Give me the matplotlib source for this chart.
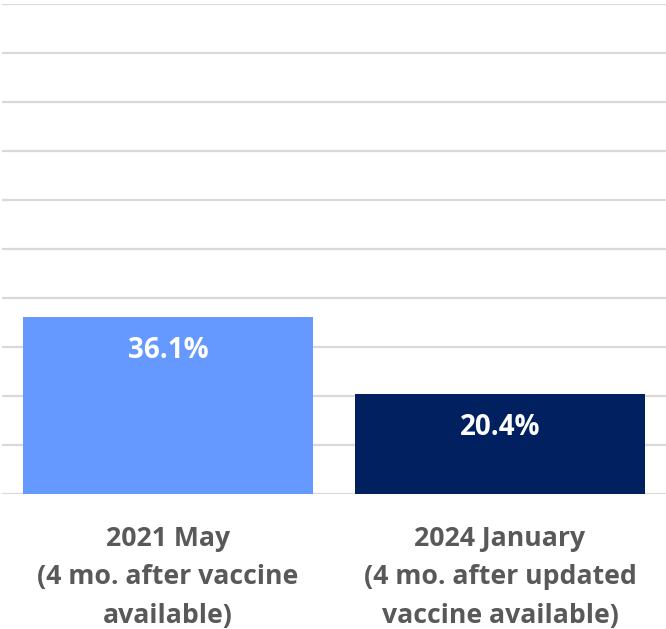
import matplotlib.pyplot as plt
import numpy as np

categories = ["2021 May\n(4 mo. after vaccine\navailable)",
              "2024 January\n(4 mo. after updated\nvaccine available)"]
values = [36.1, 20.4]
colors = ["#6699FF", "#002060"]

plt.rcParams["font.family"] = ["Open Sans", "DejaVu Sans"]

fig = plt.figure(figsize=(6.66, 6.29), dpi=100)
ax = fig.add_axes([2 / 666, 1 - 494 / 629, 664 / 666, 490 / 629])

x = np.arange(len(values))
bars = ax.bar(x, values, width=0.872, color=colors, zorder=3)

ax.set_xlim(-0.5, len(values) - 0.5)
ax.set_ylim(0, 100)
ax.set_yticks(np.arange(0, 101, 10))
ax.yaxis.grid(True, color="#d9d9d9", linewidth=1.6, zorder=0)
ax.tick_params(axis="y", left=False, labelleft=False)
ax.tick_params(axis="x", bottom=False, pad=19.5)
for s in ax.spines.values():
    s.set_visible(False)

ax.set_xticks(x)
ax.set_xticklabels(categories, fontsize=19.2, fontweight="bold", color="#595959",
                   linespacing=1.62)

# value labels inside the top of each bar
for xi, v in zip(x, values):
    ax.annotate(f"{v:.1f}%", xy=(xi, v), xytext=(0, -33), textcoords="offset pixels",
                ha="center", va="center", color="white", fontsize=20, fontweight="bold")

fig.savefig("out.png", dpi=100)
